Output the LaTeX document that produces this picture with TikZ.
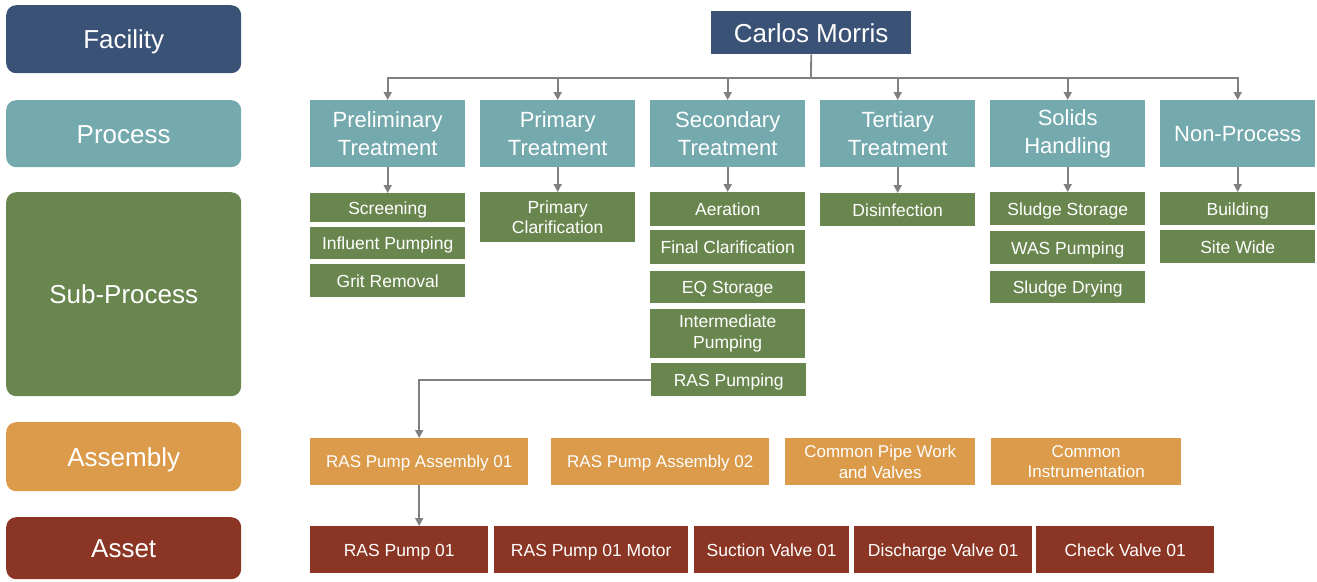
\documentclass[tikz,border=0pt]{standalone}
\usepackage{fontspec}
\setmainfont{Liberation Sans}
\usetikzlibrary{arrows.meta}
\definecolor{cblue}{HTML}{3A5275}
\definecolor{cteal}{HTML}{74A9AD}
\definecolor{cgreen}{HTML}{6A864F}
\definecolor{corange}{HTML}{DB9B4B}
\definecolor{cred}{HTML}{8B3524}
\definecolor{cline}{HTML}{808080}
\tikzset{
  box/.style={rectangle, inner sep=0pt, text=white, align=center, anchor=north west},
  oneL/.style={text height=23.4pt, text depth=4.7pt},
  oneP/.style={text height=19.8pt, text depth=4pt},
  oneS/.style={text height=15.75pt, text depth=3.15pt},
  oneA/.style={text height=15.3pt, text depth=3.06pt},
  lvl/.style={box, oneL, rounded corners=10pt, minimum width=235pt, font=\fontsize{26}{30}\selectfont},
  fac/.style={box, oneL, fill=cblue, font=\fontsize{26}{30}\selectfont},
  proc/.style={box, fill=cteal, minimum width=155pt, minimum height=67pt, font=\fontsize{22}{28}\selectfont},
  sub/.style={box, fill=cgreen, minimum width=155pt, font=\fontsize{17.5}{20.5}\selectfont},
  asm/.style={box, fill=corange, minimum height=47pt, font=\fontsize{17}{20.5}\selectfont},
  ast/.style={box, oneS, fill=cred, minimum height=47pt, font=\fontsize{17.5}{20}\selectfont},
  conn/.style={draw=cline, line width=1.8pt, -{Triangle[width=8pt,length=8pt]}},
  busline/.style={draw=cline, line width=1.8pt}
}
\begin{document}
\begin{tikzpicture}[x=1pt,y=-1pt]
\useasboundingbox (0,0) rectangle (1317,581);
% level labels
\node[lvl, fill=cblue, minimum height=68pt] (L1) at (6,5) {Facility};
\node[lvl, fill=cteal, minimum height=67pt] (L2) at (6,100) {Process};
\node[lvl, fill=cgreen, minimum height=204pt] (L3) at (6,192) {Sub-Process};
\node[lvl, fill=corange, minimum height=69pt] (L4) at (6,422) {Assembly};
\node[lvl, fill=cred, minimum height=62pt] (L5) at (6,517) {Asset};
% facility
\node[fac, minimum width=200pt, minimum height=43pt] (cm) at (711,11) {Carlos Morris};
% processes
\node[proc] (p1) at (310,100) {Preliminary\\Treatment};
\node[proc] (p2) at (480,100) {Primary\\Treatment};
\node[proc] (p3) at (650,100) {Secondary\\Treatment};
\node[proc] (p4) at (820,100) {Tertiary\\Treatment};
\node[proc] (p5) at (990,100) {Solids\\Handling};
\node[proc, oneP] (p6) at (1160,100) {Non-Process};
% sub-processes
\node[sub, oneS, minimum height=29pt] (s11) at (310,193) {Screening};
\node[sub, oneS, minimum height=32pt] (s12) at (310,227) {Influent Pumping};
\node[sub, oneS, minimum height=33pt] (s13) at (310,264) {Grit Removal};
\node[sub, minimum height=50pt] (s21) at (480,192) {Primary\\Clarification};
\node[sub, oneS, minimum height=34pt] (s31) at (650,192) {Aeration};
\node[sub, oneS, minimum height=34pt] (s32) at (650,230) {Final Clarification};
\node[sub, oneS, minimum height=32pt] (s33) at (650,271) {EQ Storage};
\node[sub, minimum height=49pt] (s34) at (650,309) {Intermediate\\Pumping};
\node[sub, oneS, minimum height=33pt] (s35) at (651,363) {RAS Pumping};
\node[sub, oneS, minimum height=33pt] (s41) at (820,193) {Disinfection};
\node[sub, oneS, minimum height=33pt] (s51) at (990,192) {Sludge Storage};
\node[sub, oneS, minimum height=33pt] (s52) at (990,231) {WAS Pumping};
\node[sub, oneS, minimum height=32pt] (s53) at (990,271) {Sludge Drying};
\node[sub, oneS, minimum height=33pt] (s61) at (1160,192) {Building};
\node[sub, oneS, minimum height=33pt] (s62) at (1160,230) {Site Wide};
% assemblies
\node[asm, oneA, minimum width=218pt] (a1) at (310,438) {RAS Pump Assembly 01};
\node[asm, oneA, minimum width=218pt] (a2) at (551,438) {RAS Pump Assembly 02};
\node[asm, minimum width=190pt] (a3) at (785,438) {Common Pipe Work\\and Valves};
\node[asm, minimum width=190pt] (a4) at (991,438) {Common\\Instrumentation};
% assets
\node[ast, minimum width=178pt] (t1) at (310,526) {RAS Pump 01};
\node[ast, minimum width=194pt] (t2) at (494,526) {RAS Pump 01 Motor};
\node[ast, minimum width=155pt] (t3) at (694,526) {Suction Valve 01};
\node[ast, minimum width=178pt] (t4) at (854,526) {Discharge Valve 01};
\node[ast, minimum width=178pt] (t5) at (1036,526) {Check Valve 01};
% connectors
\coordinate (bus) at (811,78);
\draw[busline] (cm.south) -- (bus);
\foreach \p in {p1,p2,p3,p4,p5,p6}{
  \draw[conn] (bus) -| (\p.north);
}
\draw[conn] (p1.south) -- (s11.north);
\draw[conn] (p2.south) -- (s21.north);
\draw[conn] (p3.south) -- (s31.north);
\draw[conn] (p4.south) -- (s41.north);
\draw[conn] (p5.south) -- (s51.north);
\draw[conn] (p6.south) -- (s61.north);
\draw[conn] (s35.west) -| (a1.north);
\draw[conn] (a1.south) -- (a1.south |- t1.north);
\end{tikzpicture}
\end{document}
